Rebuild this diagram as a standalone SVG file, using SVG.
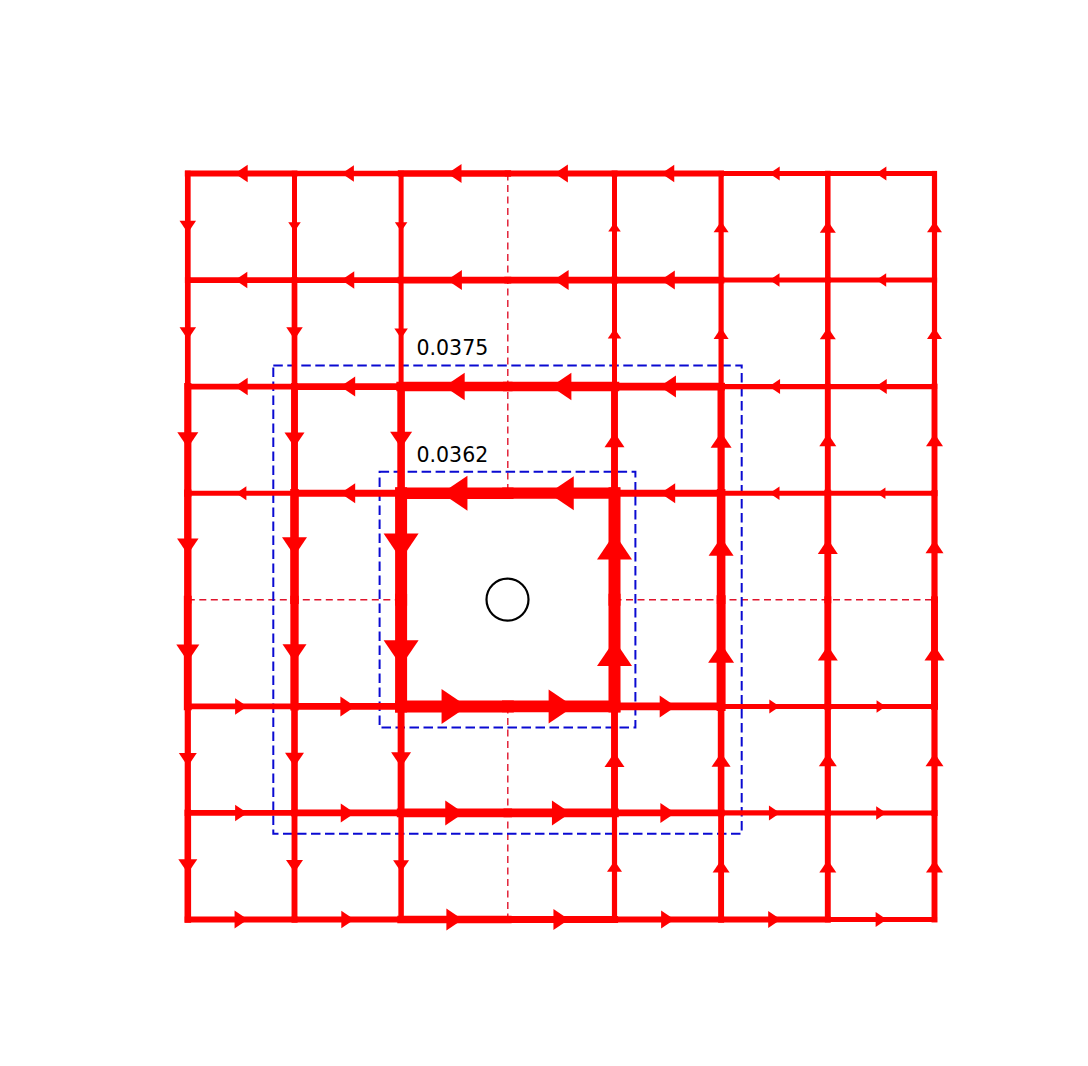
<svg xmlns="http://www.w3.org/2000/svg" xmlns:xlink="http://www.w3.org/1999/xlink" width="1088" height="1066" viewBox="0 0 1088 1066">
<style>
.e{stroke:#ff0000;stroke-linecap:square;fill:none}
.z{stroke:#e0142c;stroke-width:1.4;stroke-dasharray:7 4.5;fill:none}
.b{stroke:#0a0ad2;stroke-width:2;stroke-dasharray:9.5 4.5;fill:none}
.t{font-family:"DejaVu Sans","Liberation Sans",sans-serif;font-size:20.5px;fill:#000}
</style>
<defs><path id="ah" d="M0.37,0 L-0.37,-0.5 L-0.37,0.5 Z" fill="#ff0000"/></defs>
<rect width="1088" height="1066" fill="#fff"/>
<g id="zero-lines">
<line class="z" x1="507.8" y1="173.5" x2="507.8" y2="493.2"/>
<line class="z" x1="507.8" y1="706.4" x2="507.8" y2="919.5"/>
<line class="z" x1="187.8" y1="599.8" x2="401.1" y2="599.8"/>
<line class="z" x1="614.5" y1="599.8" x2="934.5" y2="599.8"/>
</g>
<g id="contours">
<rect class="b" x="273.3" y="365.4" width="468.4" height="468.4"/>
<rect class="b" x="379.6" y="471.7" width="255.8" height="255.8"/>
</g>
<g id="connectors">
<!-- row 0 -->
<g id="h0-0"><line class="e" x1="294.5" y1="173.5" x2="187.8" y2="173.5" stroke-width="5.9"/><use xlink:href="#ah" transform="translate(241.2,173.5) rotate(180) scale(17.5)"/></g>
<g id="h0-1"><line class="e" x1="401.1" y1="173.5" x2="294.5" y2="173.5" stroke-width="5.7"/><use xlink:href="#ah" transform="translate(347.8,173.5) rotate(180) scale(16.5)"/></g>
<g id="h0-2"><line class="e" x1="507.8" y1="173.5" x2="401.1" y2="173.5" stroke-width="6.6"/><use xlink:href="#ah" transform="translate(454.5,173.5) rotate(180) scale(19)"/></g>
<g id="h0-3"><line class="e" x1="614.5" y1="173.5" x2="507.8" y2="173.5" stroke-width="6.2"/><use xlink:href="#ah" transform="translate(561.2,173.5) rotate(180) scale(18)"/></g>
<g id="h0-4"><line class="e" x1="721.1" y1="173.5" x2="614.5" y2="173.5" stroke-width="5.9"/><use xlink:href="#ah" transform="translate(667.8,173.5) rotate(180) scale(17.5)"/></g>
<g id="h0-5"><line class="e" x1="827.8" y1="173.5" x2="721.1" y2="173.5" stroke-width="5"/><use xlink:href="#ah" transform="translate(774.5,173.5) rotate(180) scale(14)"/></g>
<g id="h0-6"><line class="e" x1="934.5" y1="173.5" x2="827.8" y2="173.5" stroke-width="5"/><use xlink:href="#ah" transform="translate(881.2,173.5) rotate(180) scale(14)"/></g>
<!-- row 1 -->
<g id="h1-0"><line class="e" x1="294.5" y1="280.1" x2="187.8" y2="280.1" stroke-width="5.7"/><use xlink:href="#ah" transform="translate(241.2,280.1) rotate(180) scale(16.5)"/></g>
<g id="h1-1"><line class="e" x1="401.1" y1="280.1" x2="294.5" y2="280.1" stroke-width="5.9"/><use xlink:href="#ah" transform="translate(347.8,280.1) rotate(180) scale(17.5)"/></g>
<g id="h1-2"><line class="e" x1="507.8" y1="280.1" x2="401.1" y2="280.1" stroke-width="6.9"/><use xlink:href="#ah" transform="translate(454.5,280.1) rotate(180) scale(20)"/></g>
<g id="h1-3"><line class="e" x1="614.5" y1="280.1" x2="507.8" y2="280.1" stroke-width="6.9"/><use xlink:href="#ah" transform="translate(561.2,280.1) rotate(180) scale(20)"/></g>
<g id="h1-4"><line class="e" x1="721.1" y1="280.1" x2="614.5" y2="280.1" stroke-width="6.6"/><use xlink:href="#ah" transform="translate(667.8,280.1) rotate(180) scale(19)"/></g>
<g id="h1-5"><line class="e" x1="827.8" y1="280.1" x2="721.1" y2="280.1" stroke-width="5"/><use xlink:href="#ah" transform="translate(774.5,280.1) rotate(180) scale(13.5)"/></g>
<g id="h1-6"><line class="e" x1="934.5" y1="280.1" x2="827.8" y2="280.1" stroke-width="5"/><use xlink:href="#ah" transform="translate(881.2,280.1) rotate(180) scale(13.5)"/></g>
<!-- row 2 -->
<g id="h2-0"><line class="e" x1="294.5" y1="386.6" x2="187.8" y2="386.6" stroke-width="5.9"/><use xlink:href="#ah" transform="translate(241.2,386.6) rotate(180) scale(17.5)"/></g>
<g id="h2-1"><line class="e" x1="401.1" y1="386.6" x2="294.5" y2="386.6" stroke-width="6.9"/><use xlink:href="#ah" transform="translate(347.8,386.6) rotate(180) scale(20)"/></g>
<g id="h2-2"><line class="e" x1="507.8" y1="386.6" x2="401.1" y2="386.6" stroke-width="9.5"/><use xlink:href="#ah" transform="translate(454.5,386.6) rotate(180) scale(27.5)"/></g>
<g id="h2-3"><line class="e" x1="614.5" y1="386.6" x2="507.8" y2="386.6" stroke-width="9.5"/><use xlink:href="#ah" transform="translate(561.2,386.6) rotate(180) scale(27.5)"/></g>
<g id="h2-4"><line class="e" x1="721.1" y1="386.6" x2="614.5" y2="386.6" stroke-width="7.6"/><use xlink:href="#ah" transform="translate(667.8,386.6) rotate(180) scale(22)"/></g>
<g id="h2-5"><line class="e" x1="827.8" y1="386.6" x2="721.1" y2="386.6" stroke-width="5.2"/><use xlink:href="#ah" transform="translate(774.5,386.6) rotate(180) scale(15)"/></g>
<g id="h2-6"><line class="e" x1="934.5" y1="386.6" x2="827.8" y2="386.6" stroke-width="5.2"/><use xlink:href="#ah" transform="translate(881.2,386.6) rotate(180) scale(15)"/></g>
<!-- row 3 -->
<g id="h3-0"><line class="e" x1="294.5" y1="493.2" x2="187.8" y2="493.2" stroke-width="5"/><use xlink:href="#ah" transform="translate(241.2,493.2) rotate(180) scale(14)"/></g>
<g id="h3-1"><line class="e" x1="401.1" y1="493.2" x2="294.5" y2="493.2" stroke-width="6.9"/><use xlink:href="#ah" transform="translate(347.8,493.2) rotate(180) scale(20)"/></g>
<g id="h3-2"><line class="e" x1="507.8" y1="493.2" x2="401.1" y2="493.2" stroke-width="11.5"/><use xlink:href="#ah" transform="translate(454.5,493.2) rotate(180) scale(35)"/></g>
<g id="h3-3"><line class="e" x1="614.5" y1="493.2" x2="507.8" y2="493.2" stroke-width="11.2"/><use xlink:href="#ah" transform="translate(561.2,493.2) rotate(180) scale(34)"/></g>
<g id="h3-4"><line class="e" x1="721.1" y1="493.2" x2="614.5" y2="493.2" stroke-width="6.9"/><use xlink:href="#ah" transform="translate(667.8,493.2) rotate(180) scale(20)"/></g>
<g id="h3-5"><line class="e" x1="827.8" y1="493.2" x2="721.1" y2="493.2" stroke-width="5"/><use xlink:href="#ah" transform="translate(774.5,493.2) rotate(180) scale(13.5)"/></g>
<g id="h3-6"><line class="e" x1="934.5" y1="493.2" x2="827.8" y2="493.2" stroke-width="5"/><use xlink:href="#ah" transform="translate(881.2,493.2) rotate(180) scale(11.5)"/></g>
<!-- row 5 -->
<g id="h5-0"><line class="e" x1="187.8" y1="706.4" x2="294.5" y2="706.4" stroke-width="5.7"/><use xlink:href="#ah" transform="translate(241.2,706.4) scale(16.5)"/></g>
<g id="h5-1"><line class="e" x1="294.5" y1="706.4" x2="401.1" y2="706.4" stroke-width="6.9"/><use xlink:href="#ah" transform="translate(347.8,706.4) scale(20)"/></g>
<g id="h5-2"><line class="e" x1="401.1" y1="706.4" x2="507.8" y2="706.4" stroke-width="12"/><use xlink:href="#ah" transform="translate(454.5,706.4) scale(35)"/></g>
<g id="h5-3"><line class="e" x1="507.8" y1="706.4" x2="614.5" y2="706.4" stroke-width="11.7"/><use xlink:href="#ah" transform="translate(561.2,706.4) scale(34)"/></g>
<g id="h5-4"><line class="e" x1="614.5" y1="706.4" x2="721.1" y2="706.4" stroke-width="7.6"/><use xlink:href="#ah" transform="translate(667.8,706.4) scale(22)"/></g>
<g id="h5-5"><line class="e" x1="721.1" y1="706.4" x2="827.8" y2="706.4" stroke-width="5"/><use xlink:href="#ah" transform="translate(774.5,706.4) scale(14)"/></g>
<g id="h5-6"><line class="e" x1="827.8" y1="706.4" x2="934.5" y2="706.4" stroke-width="5"/><use xlink:href="#ah" transform="translate(881.2,706.4) scale(12.5)"/></g>
<!-- row 6 -->
<g id="h6-0"><line class="e" x1="187.8" y1="812.9" x2="294.5" y2="812.9" stroke-width="5.7"/><use xlink:href="#ah" transform="translate(241.2,812.9) scale(16.5)"/></g>
<g id="h6-1"><line class="e" x1="294.5" y1="812.9" x2="401.1" y2="812.9" stroke-width="6.6"/><use xlink:href="#ah" transform="translate(347.8,812.9) scale(19)"/></g>
<g id="h6-2"><line class="e" x1="401.1" y1="812.9" x2="507.8" y2="812.9" stroke-width="8.6"/><use xlink:href="#ah" transform="translate(454.5,812.9) scale(25)"/></g>
<g id="h6-3"><line class="e" x1="507.8" y1="812.9" x2="614.5" y2="812.9" stroke-width="8.6"/><use xlink:href="#ah" transform="translate(561.2,812.9) scale(25)"/></g>
<g id="h6-4"><line class="e" x1="614.5" y1="812.9" x2="721.1" y2="812.9" stroke-width="6.9"/><use xlink:href="#ah" transform="translate(667.8,812.9) scale(20)"/></g>
<g id="h6-5"><line class="e" x1="721.1" y1="812.9" x2="827.8" y2="812.9" stroke-width="5.2"/><use xlink:href="#ah" transform="translate(774.5,812.9) scale(15)"/></g>
<g id="h6-6"><line class="e" x1="827.8" y1="812.9" x2="934.5" y2="812.9" stroke-width="5"/><use xlink:href="#ah" transform="translate(881.2,812.9) scale(13.5)"/></g>
<!-- row 7 -->
<g id="h7-0"><line class="e" x1="187.8" y1="919.5" x2="294.5" y2="919.5" stroke-width="6.2"/><use xlink:href="#ah" transform="translate(241.2,919.5) scale(18)"/></g>
<g id="h7-1"><line class="e" x1="294.5" y1="919.5" x2="401.1" y2="919.5" stroke-width="5.9"/><use xlink:href="#ah" transform="translate(347.8,919.5) scale(17.5)"/></g>
<g id="h7-2"><line class="e" x1="401.1" y1="919.5" x2="507.8" y2="919.5" stroke-width="7.6"/><use xlink:href="#ah" transform="translate(454.5,919.5) scale(22)"/></g>
<g id="h7-3"><line class="e" x1="507.8" y1="919.5" x2="614.5" y2="919.5" stroke-width="7.2"/><use xlink:href="#ah" transform="translate(561.2,919.5) scale(21)"/></g>
<g id="h7-4"><line class="e" x1="614.5" y1="919.5" x2="721.1" y2="919.5" stroke-width="6.2"/><use xlink:href="#ah" transform="translate(667.8,919.5) scale(18)"/></g>
<g id="h7-5"><line class="e" x1="721.1" y1="919.5" x2="827.8" y2="919.5" stroke-width="5.9"/><use xlink:href="#ah" transform="translate(774.5,919.5) scale(17)"/></g>
<g id="h7-6"><line class="e" x1="827.8" y1="919.5" x2="934.5" y2="919.5" stroke-width="5.2"/><use xlink:href="#ah" transform="translate(881.2,919.5) scale(15)"/></g>
<!-- column 0 -->
<g id="v0-0"><line class="e" x1="187.8" y1="173.5" x2="187.8" y2="280.1" stroke-width="5.7"/><use xlink:href="#ah" transform="translate(187.8,226.8) rotate(90) scale(16.5)"/></g>
<g id="v0-1"><line class="e" x1="187.8" y1="280.1" x2="187.8" y2="386.6" stroke-width="5.7"/><use xlink:href="#ah" transform="translate(187.8,333.4) rotate(90) scale(16.5)"/></g>
<g id="v0-2"><line class="e" x1="187.8" y1="386.6" x2="187.8" y2="493.2" stroke-width="7.2"/><use xlink:href="#ah" transform="translate(187.8,439.9) rotate(90) scale(21)"/></g>
<g id="v0-3"><line class="e" x1="187.8" y1="493.2" x2="187.8" y2="599.8" stroke-width="7.4"/><use xlink:href="#ah" transform="translate(187.8,546.5) rotate(90) scale(21.5)"/></g>
<g id="v0-4"><line class="e" x1="187.8" y1="599.8" x2="187.8" y2="706.4" stroke-width="7.9"/><use xlink:href="#ah" transform="translate(187.8,653.1) rotate(90) scale(23)"/></g>
<g id="v0-5"><line class="e" x1="187.8" y1="706.4" x2="187.8" y2="812.9" stroke-width="6.2"/><use xlink:href="#ah" transform="translate(187.8,759.7) rotate(90) scale(18)"/></g>
<g id="v0-6"><line class="e" x1="187.8" y1="812.9" x2="187.8" y2="919.5" stroke-width="6.6"/><use xlink:href="#ah" transform="translate(187.8,866.2) rotate(90) scale(19)"/></g>
<!-- column 1 -->
<g id="v1-0"><line class="e" x1="294.5" y1="173.5" x2="294.5" y2="280.1" stroke-width="5"/><use xlink:href="#ah" transform="translate(294.5,226.8) rotate(90) scale(12.5)"/></g>
<g id="v1-1"><line class="e" x1="294.5" y1="280.1" x2="294.5" y2="386.6" stroke-width="5.7"/><use xlink:href="#ah" transform="translate(294.5,333.4) rotate(90) scale(16.5)"/></g>
<g id="v1-2"><line class="e" x1="294.5" y1="386.6" x2="294.5" y2="493.2" stroke-width="6.9"/><use xlink:href="#ah" transform="translate(294.5,439.9) rotate(90) scale(20)"/></g>
<g id="v1-3"><line class="e" x1="294.5" y1="493.2" x2="294.5" y2="599.8" stroke-width="8.6"/><use xlink:href="#ah" transform="translate(294.5,546.5) rotate(90) scale(25)"/></g>
<g id="v1-4"><line class="e" x1="294.5" y1="599.8" x2="294.5" y2="706.4" stroke-width="8.3"/><use xlink:href="#ah" transform="translate(294.5,653.1) rotate(90) scale(24)"/></g>
<g id="v1-5"><line class="e" x1="294.5" y1="706.4" x2="294.5" y2="812.9" stroke-width="6.6"/><use xlink:href="#ah" transform="translate(294.5,759.7) rotate(90) scale(19)"/></g>
<g id="v1-6"><line class="e" x1="294.5" y1="812.9" x2="294.5" y2="919.5" stroke-width="5.9"/><use xlink:href="#ah" transform="translate(294.5,866.2) rotate(90) scale(17)"/></g>
<!-- column 2 -->
<g id="v2-0"><line class="e" x1="401.1" y1="173.5" x2="401.1" y2="280.1" stroke-width="5"/><use xlink:href="#ah" transform="translate(401.1,226.8) rotate(90) scale(12.5)"/></g>
<g id="v2-1"><line class="e" x1="401.1" y1="280.1" x2="401.1" y2="386.6" stroke-width="5"/><use xlink:href="#ah" transform="translate(401.1,333.4) rotate(90) scale(13.5)"/></g>
<g id="v2-2"><line class="e" x1="401.1" y1="386.6" x2="401.1" y2="493.2" stroke-width="7.6"/><use xlink:href="#ah" transform="translate(401.1,439.9) rotate(90) scale(22)"/></g>
<g id="v2-3"><line class="e" x1="401.1" y1="493.2" x2="401.1" y2="599.8" stroke-width="12"/><use xlink:href="#ah" transform="translate(401.1,546.5) rotate(90) scale(35)"/></g>
<g id="v2-4"><line class="e" x1="401.1" y1="599.8" x2="401.1" y2="706.4" stroke-width="12"/><use xlink:href="#ah" transform="translate(401.1,653.1) rotate(90) scale(35)"/></g>
<g id="v2-5"><line class="e" x1="401.1" y1="706.4" x2="401.1" y2="812.9" stroke-width="6.9"/><use xlink:href="#ah" transform="translate(401.1,759.7) rotate(90) scale(20)"/></g>
<g id="v2-6"><line class="e" x1="401.1" y1="812.9" x2="401.1" y2="919.5" stroke-width="5.5"/><use xlink:href="#ah" transform="translate(401.1,866.2) rotate(90) scale(16)"/></g>
<!-- column 4 -->
<g id="v4-0"><line class="e" x1="614.5" y1="280.1" x2="614.5" y2="173.5" stroke-width="5"/><use xlink:href="#ah" transform="translate(614.5,226.8) rotate(-90) scale(12.5)"/></g>
<g id="v4-1"><line class="e" x1="614.5" y1="386.6" x2="614.5" y2="280.1" stroke-width="5"/><use xlink:href="#ah" transform="translate(614.5,333.4) rotate(-90) scale(13.5)"/></g>
<g id="v4-2"><line class="e" x1="614.5" y1="493.2" x2="614.5" y2="386.6" stroke-width="6.9"/><use xlink:href="#ah" transform="translate(614.5,439.9) rotate(-90) scale(20)"/></g>
<g id="v4-3"><line class="e" x1="614.5" y1="599.8" x2="614.5" y2="493.2" stroke-width="12"/><use xlink:href="#ah" transform="translate(614.5,546.5) rotate(-90) scale(35)"/></g>
<g id="v4-4"><line class="e" x1="614.5" y1="706.4" x2="614.5" y2="599.8" stroke-width="12"/><use xlink:href="#ah" transform="translate(614.5,653.1) rotate(-90) scale(35)"/></g>
<g id="v4-5"><line class="e" x1="614.5" y1="812.9" x2="614.5" y2="706.4" stroke-width="6.9"/><use xlink:href="#ah" transform="translate(614.5,759.7) rotate(-90) scale(20)"/></g>
<g id="v4-6"><line class="e" x1="614.5" y1="919.5" x2="614.5" y2="812.9" stroke-width="5.2"/><use xlink:href="#ah" transform="translate(614.5,866.2) rotate(-90) scale(15)"/></g>
<!-- column 5 -->
<g id="v5-0"><line class="e" x1="721.1" y1="280.1" x2="721.1" y2="173.5" stroke-width="5.2"/><use xlink:href="#ah" transform="translate(721.1,226.8) rotate(-90) scale(15)"/></g>
<g id="v5-1"><line class="e" x1="721.1" y1="386.6" x2="721.1" y2="280.1" stroke-width="5.2"/><use xlink:href="#ah" transform="translate(721.1,333.4) rotate(-90) scale(15)"/></g>
<g id="v5-2"><line class="e" x1="721.1" y1="493.2" x2="721.1" y2="386.6" stroke-width="7.2"/><use xlink:href="#ah" transform="translate(721.1,439.9) rotate(-90) scale(21)"/></g>
<g id="v5-3"><line class="e" x1="721.1" y1="599.8" x2="721.1" y2="493.2" stroke-width="8.6"/><use xlink:href="#ah" transform="translate(721.1,546.5) rotate(-90) scale(25)"/></g>
<g id="v5-4"><line class="e" x1="721.1" y1="706.4" x2="721.1" y2="599.8" stroke-width="9"/><use xlink:href="#ah" transform="translate(721.1,653.1) rotate(-90) scale(26)"/></g>
<g id="v5-5"><line class="e" x1="721.1" y1="812.9" x2="721.1" y2="706.4" stroke-width="6.6"/><use xlink:href="#ah" transform="translate(721.1,759.7) rotate(-90) scale(19)"/></g>
<g id="v5-6"><line class="e" x1="721.1" y1="919.5" x2="721.1" y2="812.9" stroke-width="5.9"/><use xlink:href="#ah" transform="translate(721.1,866.2) rotate(-90) scale(17)"/></g>
<!-- column 6 -->
<g id="v6-0"><line class="e" x1="827.8" y1="280.1" x2="827.8" y2="173.5" stroke-width="5.5"/><use xlink:href="#ah" transform="translate(827.8,226.8) rotate(-90) scale(16)"/></g>
<g id="v6-1"><line class="e" x1="827.8" y1="386.6" x2="827.8" y2="280.1" stroke-width="5.5"/><use xlink:href="#ah" transform="translate(827.8,333.4) rotate(-90) scale(16)"/></g>
<g id="v6-2"><line class="e" x1="827.8" y1="493.2" x2="827.8" y2="386.6" stroke-width="5.9"/><use xlink:href="#ah" transform="translate(827.8,439.9) rotate(-90) scale(17)"/></g>
<g id="v6-3"><line class="e" x1="827.8" y1="599.8" x2="827.8" y2="493.2" stroke-width="6.9"/><use xlink:href="#ah" transform="translate(827.8,546.5) rotate(-90) scale(20)"/></g>
<g id="v6-4"><line class="e" x1="827.8" y1="706.4" x2="827.8" y2="599.8" stroke-width="6.9"/><use xlink:href="#ah" transform="translate(827.8,653.1) rotate(-90) scale(20)"/></g>
<g id="v6-5"><line class="e" x1="827.8" y1="812.9" x2="827.8" y2="706.4" stroke-width="6.2"/><use xlink:href="#ah" transform="translate(827.8,759.7) rotate(-90) scale(18)"/></g>
<g id="v6-6"><line class="e" x1="827.8" y1="919.5" x2="827.8" y2="812.9" stroke-width="5.9"/><use xlink:href="#ah" transform="translate(827.8,866.2) rotate(-90) scale(17)"/></g>
<!-- column 7 -->
<g id="v7-0"><line class="e" x1="934.5" y1="280.1" x2="934.5" y2="173.5" stroke-width="5.2"/><use xlink:href="#ah" transform="translate(934.5,226.8) rotate(-90) scale(15)"/></g>
<g id="v7-1"><line class="e" x1="934.5" y1="386.6" x2="934.5" y2="280.1" stroke-width="5.2"/><use xlink:href="#ah" transform="translate(934.5,333.4) rotate(-90) scale(15)"/></g>
<g id="v7-2"><line class="e" x1="934.5" y1="493.2" x2="934.5" y2="386.6" stroke-width="5.9"/><use xlink:href="#ah" transform="translate(934.5,439.9) rotate(-90) scale(17)"/></g>
<g id="v7-3"><line class="e" x1="934.5" y1="599.8" x2="934.5" y2="493.2" stroke-width="6.2"/><use xlink:href="#ah" transform="translate(934.5,546.5) rotate(-90) scale(18)"/></g>
<g id="v7-4"><line class="e" x1="934.5" y1="706.4" x2="934.5" y2="599.8" stroke-width="6.9"/><use xlink:href="#ah" transform="translate(934.5,653.1) rotate(-90) scale(20)"/></g>
<g id="v7-5"><line class="e" x1="934.5" y1="812.9" x2="934.5" y2="706.4" stroke-width="6.2"/><use xlink:href="#ah" transform="translate(934.5,759.7) rotate(-90) scale(18)"/></g>
<g id="v7-6"><line class="e" x1="934.5" y1="919.5" x2="934.5" y2="812.9" stroke-width="5.9"/><use xlink:href="#ah" transform="translate(934.5,866.2) rotate(-90) scale(17)"/></g>
</g>
<g id="hole"><circle cx="507.5" cy="599.6" r="21" fill="none" stroke="#000" stroke-width="2.2"/></g>
<g id="labels">
<text class="t" x="416.5" y="355">0.0375</text>
<text class="t" x="416.5" y="461.5">0.0362</text>
</g>
</svg>
